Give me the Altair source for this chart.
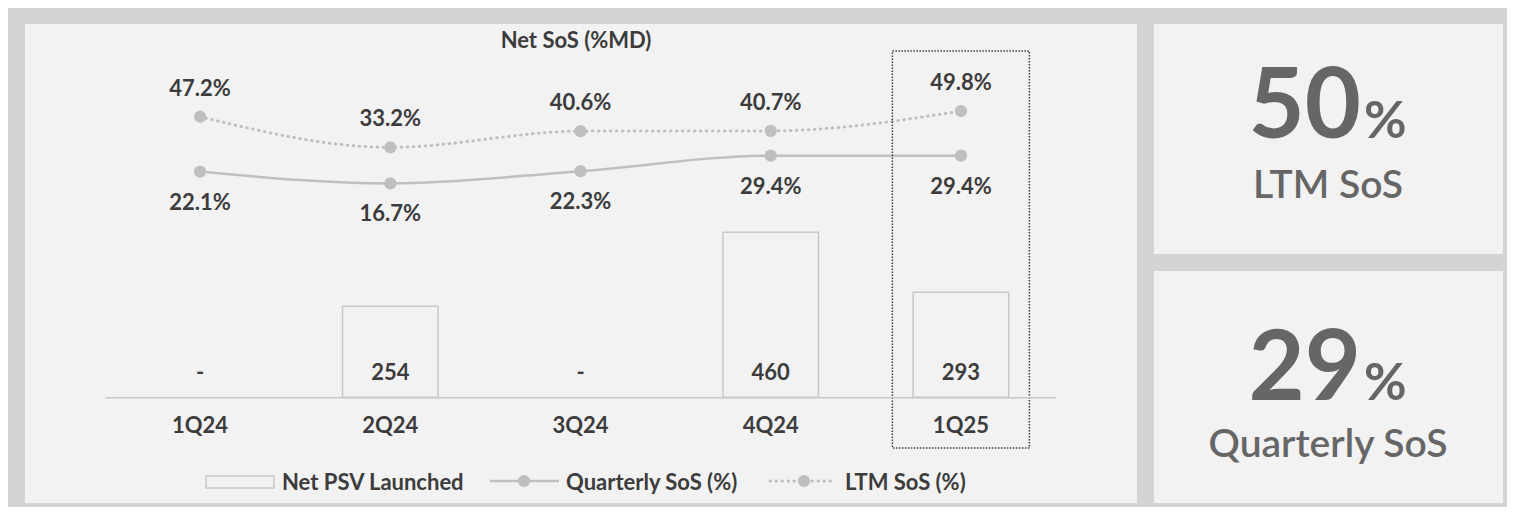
import altair as alt
import pandas as pd

# ---------------- data ----------------
quarters = ["1Q24", "2Q24", "3Q24", "4Q24", "1Q25"]
psv_launched = [0, 254, 0, 460, 293]
quarterly_sos = [22.1, 16.7, 22.3, 29.4, 29.4]
ltm_sos = [47.2, 33.2, 40.6, 40.7, 49.8]
legend_labels = ["Net PSV Launched", "Quarterly SoS (%)", "LTM SoS (%)"]
chart_title = "Net SoS (%MD)"
highlight_quarter = "1Q25"
kpi_labels = ["LTM SoS", "Quarterly SoS"]
kpi_values = [round(ltm_sos[-1]), round(quarterly_sos[-1])]

df = pd.DataFrame({
    "quarter": quarters,
    "psv": psv_launched,
    "q": quarterly_sos,
    "ltm": ltm_sos,
})
df["psv_label"] = [str(v) if v else "-" for v in psv_launched]
df["q_label"] = [f"{v:.1f}%" for v in quarterly_sos]
df["ltm_label"] = [f"{v:.1f}%" for v in ltm_sos]

# ---------------- style ----------------
FONT = "Lato"
DARK = "#3c3c3c"
MID = "#666666"
LINE = "#bfbfbf"
BAR_STROKE = "#c8c8c8"
PANEL = "#f2f2f2"
FRAME = "#d4d4d4"
W, H = 1499, 499
TXT = 22

one = pd.DataFrame({"k": [0]})


def panel(x0, x1, y0, y1):
    return alt.Chart(one).mark_rect(color=PANEL).encode(
        x=alt.value(x0), x2=alt.value(x1), y=alt.value(y0), y2=alt.value(y1)
    )


def label(text, x, y, size=TXT, color=DARK, align="center", weight="bold"):
    return alt.Chart(one).mark_text(
        text=text, font=FONT, fontSize=size, fontWeight=weight, color=color,
        align=align, baseline="alphabetic"
    ).encode(x=alt.value(x), y=alt.value(y))


panels = panel(17, 1129, 16, 495) + panel(1146, 1495, 16, 246) + panel(1146, 1495, 263, 495)

x_enc = alt.X(
    "quarter:N", sort=quarters,
    scale=alt.Scale(range=[97, 1048], paddingInner=0, paddingOuter=0),
    axis=alt.Axis(
        title=None, labelAngle=0, offset=-(H - 389.3), ticks=False, tickSize=0,
        domainColor=BAR_STROKE, domainWidth=1.5, labelPadding=35,
        labelBaseline="alphabetic", labelFont=FONT, labelFontSize=TXT,
        labelFontWeight="bold", labelColor=DARK, grid=False, zindex=1,
    ),
)

bar_y = alt.Scale(domain=[0, 1000], range=[389.3, 30.6])
pct_y = alt.Scale(domain=[0, 50], range=[211.9, 102.6])

base = alt.Chart(df)

bars = base.transform_filter("datum.psv > 0").mark_bar(
    width=95.5, fill=PANEL, stroke=BAR_STROKE, strokeWidth=1.5
).encode(x=x_enc, y=alt.Y("psv:Q", scale=bar_y, axis=None))

bar_text = base.mark_text(
    font=FONT, fontSize=TXT, fontWeight="bold", color=DARK, baseline="alphabetic", dy=-17
).encode(
    x=x_enc,
    y=alt.Y("zero:Q", scale=bar_y, axis=None),
    text="psv_label:N",
).transform_calculate(zero="0")

q_line = base.mark_line(interpolate="monotone", color=LINE, strokeWidth=2.5).encode(
    x=x_enc, y=alt.Y("q:Q", scale=pct_y, axis=None)
)
q_pts = base.mark_circle(size=150, color=LINE, opacity=1).encode(
    x=x_enc, y=alt.Y("q:Q", scale=pct_y, axis=None)
)
q_text = base.mark_text(
    font=FONT, fontSize=TXT, fontWeight="bold", color=DARK, baseline="alphabetic", dy=38
).encode(x=x_enc, y=alt.Y("q:Q", scale=pct_y, axis=None), text="q_label:N")

l_line = base.mark_line(
    interpolate="monotone", color=LINE, strokeWidth=3, strokeDash=[0.5, 5.5], strokeCap="round"
).encode(x=x_enc, y=alt.Y("ltm:Q", scale=pct_y, axis=None))
l_pts = base.mark_circle(size=150, color=LINE, opacity=1).encode(
    x=x_enc, y=alt.Y("ltm:Q", scale=pct_y, axis=None)
)
l_text = base.mark_text(
    font=FONT, fontSize=TXT, fontWeight="bold", color=DARK, baseline="alphabetic", dy=-21
).encode(x=x_enc, y=alt.Y("ltm:Q", scale=pct_y, axis=None), text="ltm_label:N")

highlight = base.transform_filter(f"datum.quarter == '{highlight_quarter}'").mark_bar(
    width=137, fill="transparent", stroke=DARK, strokeWidth=1.5, strokeDash=[1.5, 1.5]
).encode(x=x_enc, y=alt.value(43), y2=alt.value(440))

title = label(chart_title, 568, 39.7)

# ---------------- custom legend ----------------
leg_rect = alt.Chart(one).mark_rect(fill=PANEL, stroke=BAR_STROKE, strokeWidth=1.5).encode(
    x=alt.value(198), x2=alt.value(266), y=alt.value(468), y2=alt.value(480)
)
leg_q_line = alt.Chart(one).mark_rule(color=LINE, strokeWidth=2.5).encode(
    x=alt.value(482), x2=alt.value(551), y=alt.value(473)
)
leg_q_pt = alt.Chart(one).mark_circle(size=150, color=LINE, opacity=1).encode(
    x=alt.value(516), y=alt.value(473)
)
leg_l_line = alt.Chart(one).mark_rule(
    color=LINE, strokeWidth=3, strokeDash=[0.5, 5.5], strokeCap="round"
).encode(x=alt.value(762), x2=alt.value(828), y=alt.value(473))
leg_l_pt = alt.Chart(one).mark_circle(size=150, color=LINE, opacity=1).encode(
    x=alt.value(796), y=alt.value(473)
)
leg_texts = (
    label(legend_labels[0], 274, 482, align="left")
    + label(legend_labels[1], 558, 482, align="left")
    + label(legend_labels[2], 837, 482, align="left")
)

# ---------------- KPI panels ----------------
kpis = (
    label(str(kpi_values[0]), 1353, 130, size=97, color=MID, align="right")
    + label("%", 1356, 130, size=52, color=MID, align="left")
    + label(kpi_labels[0], 1328 - 8, 190, size=39, color=MID, weight=600)
    + label(str(kpi_values[1]), 1353, 392, size=97, color=MID, align="right")
    + label("%", 1356, 392, size=52, color=MID, align="left")
    + label(kpi_labels[1], 1328 - 8, 449, size=39, color=MID, weight=600)
)

chart = alt.layer(
    panels, bars, bar_text, q_line, l_line, q_pts, l_pts, q_text, l_text,
    highlight, title, leg_rect, leg_q_line, leg_q_pt, leg_l_line, leg_l_pt, leg_texts, kpis,
).resolve_scale(y="independent").properties(
    width=W, height=H, padding=0, autosize=alt.AutoSizeParams(type="none"),
    background=FRAME,
).configure_view(stroke=None, fill=FRAME)

chart.save("out.html", embed_options={"renderer": "svg", "actions": False})
